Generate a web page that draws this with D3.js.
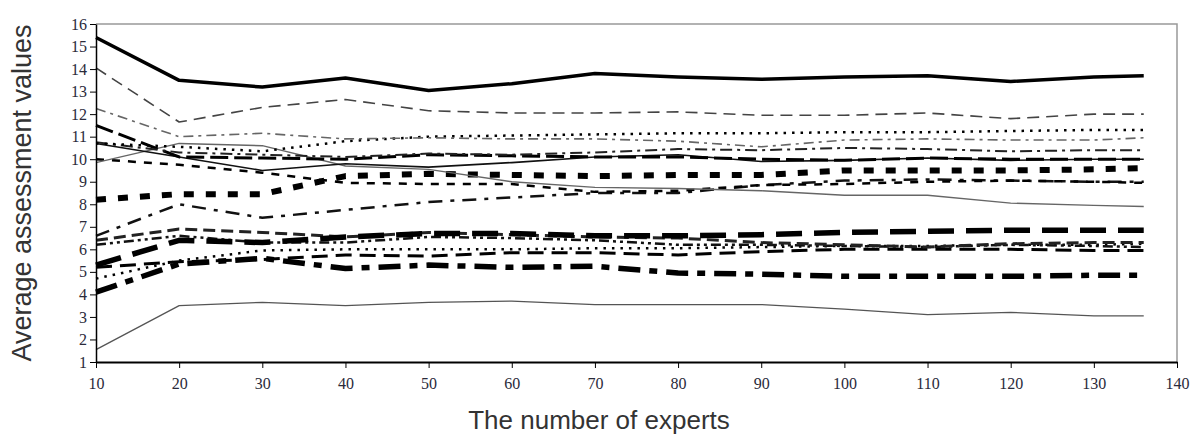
<!DOCTYPE html>
<html>
<head>
  <meta charset="utf-8">
  <title>Average assessment values by number of experts</title>
  <script src="https://cdn.jsdelivr.net/npm/d3@7"></script>
  <style>
    body { margin: 0; background: #fff; }
    .tick text { font-family: "Liberation Serif", "DejaVu Serif", serif; font-size: 16px; fill: #2a2a3a; }
    .axis-title { font-family: "Liberation Sans", Arial, sans-serif; fill: #333; }
  </style>
</head>
<body>
<script>
// x values (number of experts)
var experts = [10, 20, 30, 40, 50, 60, 70, 80, 90, 100, 110, 120, 130, 136];

// series
var thickSolid   = [15.4, 13.5, 13.2, 13.6, 13.05, 13.35, 13.8, 13.65, 13.55, 13.65, 13.7, 13.45, 13.65, 13.7];
var grayDash     = [14.05, 11.65, 12.3, 12.65, 12.15, 12.05, 12.05, 12.1, 11.95, 11.95, 12.05, 11.8, 12.0, 12.0];
var dashDotHigh  = [12.25, 11.0, 11.15, 10.9, 10.95, 10.9, 10.9, 10.8, 10.55, 10.85, 10.9, 10.85, 10.85, 10.95];
var dottedHigh   = [10.7, 10.55, 10.35, 10.8, 11.0, 11.05, 11.1, 11.15, 11.15, 11.2, 11.2, 11.25, 11.3, 11.3];
var dashDotMid   = [10.75, 10.3, 10.2, 10.1, 10.25, 10.2, 10.3, 10.45, 10.4, 10.5, 10.45, 10.35, 10.4, 10.4];
var thickLong    = [11.5, 10.1, 10.05, 10.0, 10.2, 10.15, 10.1, 10.1, 10.0, 9.95, 10.05, 10.0, 10.0, 10.0];
var blackSolid   = [10.7, 10.1, 9.5, 9.8, 9.65, 9.85, 10.1, 10.2, 9.9, 9.95, 10.05, 9.95, 10.0, 10.0];
var graySolid    = [9.85, 10.7, 10.6, 9.7, 9.55, 9.0, 8.75, 8.7, 8.6, 8.4, 8.4, 8.05, 7.95, 7.9];
var squareDash   = [8.2, 8.45, 8.45, 9.25, 9.35, 9.3, 9.25, 9.3, 9.3, 9.5, 9.5, 9.5, 9.55, 9.6];
var shortDash    = [10.0, 9.75, 9.4, 8.95, 8.9, 8.9, 8.55, 8.6, 8.85, 8.9, 9.0, 9.05, 9.0, 8.95];
var peakDashDot  = [6.6, 8.0, 7.4, 7.75, 8.1, 8.3, 8.5, 8.5, 8.85, 9.05, 9.1, 9.05, 9.0, 9.0];
var heavyLong    = [5.3, 6.4, 6.3, 6.55, 6.7, 6.7, 6.6, 6.6, 6.65, 6.75, 6.8, 6.85, 6.85, 6.85];
var mediumDash   = [6.4, 6.9, 6.75, 6.55, 6.75, 6.65, 6.55, 6.5, 6.3, 6.2, 6.1, 6.25, 6.3, 6.3];
var dashDotDot   = [6.2, 6.6, 6.3, 6.3, 6.55, 6.5, 6.4, 6.2, 6.2, 6.15, 6.1, 6.2, 6.15, 6.1];
var lowDash      = [5.2, 5.45, 5.55, 5.75, 5.7, 5.85, 5.85, 5.75, 5.9, 6.0, 6.0, 6.0, 5.95, 5.95];
var dottedLow    = [4.7, 5.5, 5.95, 6.0, 6.0, 6.0, 6.05, 6.05, 6.1, 6.15, 6.15, 6.2, 6.2, 6.25];
var heavyDashDot = [4.1, 5.35, 5.6, 5.15, 5.3, 5.2, 5.25, 4.95, 4.9, 4.8, 4.8, 4.8, 4.85, 4.85];
var bottomSolid  = [1.55, 3.5, 3.65, 3.5, 3.65, 3.7, 3.55, 3.55, 3.55, 3.35, 3.1, 3.2, 3.05, 3.05];

var yTicks = d3.range(1, 17);
var xTicks = d3.range(10, 141, 10);

// how each line is stroked
var series = [
  { v: bottomSolid,  c: "#555", w: 1.3, d: null },
  { v: heavyDashDot, c: "#000", w: 5.5, d: "22,9,8,9" },
  { v: dottedLow,    c: "#000", w: 2.5, d: "2.5,6" },
  { v: lowDash,      c: "#000", w: 3,   d: "16,8" },
  { v: dashDotDot,   c: "#111", w: 2.5, d: "10,4,3,4,3,4" },
  { v: mediumDash,   c: "#222", w: 3,   d: "12,6" },
  { v: heavyLong,    c: "#000", w: 5.5, d: "26,12" },
  { v: peakDashDot,  c: "#111", w: 2.5, d: "14,8,4,8" },
  { v: shortDash,    c: "#000", w: 2.5, d: "8,8" },
  { v: squareDash,   c: "#000", w: 6,   d: "10,12" },
  { v: graySolid,    c: "#666", w: 1.4, d: null },
  { v: blackSolid,   c: "#111", w: 1.6, d: null },
  { v: thickLong,    c: "#000", w: 3,   d: "18,6" },
  { v: dashDotMid,   c: "#222", w: 2,   d: "12,5,3,5" },
  { v: dottedHigh,   c: "#000", w: 2.5, d: "2.5,6" },
  { v: dashDotHigh,  c: "#666", w: 1.6, d: "10,5,3,5" },
  { v: grayDash,     c: "#444", w: 1.6, d: "12,7" },
  { v: thickSolid,   c: "#000", w: 3.5, d: null }
];

var svg_width = 1193, svg_height = 437;
var plotLeft = 96, plotRight = 1177, plotTop = 24, plotBottom = 362;

var svg = d3.select("body").append("svg")
    .attr("width", svg_width)
    .attr("height", svg_height);

var x = d3.scaleLinear().domain([10, 140]).range([plotLeft, plotRight]);
var y = d3.scaleLinear().domain([1, 16]).range([plotBottom, plotTop]);

// frame (gray top and right)
svg.append("path")
    .attr("d", "M" + plotLeft + "," + plotTop + "H" + plotRight + "V" + plotBottom)
    .attr("fill", "none")
    .attr("stroke", "#999")
    .attr("stroke-width", 1.5);

var line = d3.line()
    .x(function(d, i) { return x(experts[i]); })
    .y(function(d) { return y(d); });

svg.append("g").selectAll("path")
    .data(series)
    .enter().append("path")
    .attr("d", function(s) { return line(s.v); })
    .attr("fill", "none")
    .attr("stroke", function(s) { return s.c; })
    .attr("stroke-width", function(s) { return s.w; })
    .attr("stroke-dasharray", function(s) { return s.d; })
    .attr("stroke-linejoin", "round");

// axes
var yAxis = svg.append("g")
    .attr("transform", "translate(" + plotLeft + ",0)")
    .call(d3.axisLeft(y).tickValues(yTicks).tickSize(6).tickSizeOuter(0).tickFormat(d3.format("d")));
yAxis.select(".domain").attr("stroke-width", 1.5);
yAxis.selectAll(".tick text").attr("x", -9);

var xAxis = svg.append("g")
    .attr("transform", "translate(0," + plotBottom + ")")
    .call(d3.axisBottom(x).tickValues(xTicks).tickSize(6).tickSizeOuter(0).tickFormat(d3.format("d")));
xAxis.select(".domain").attr("stroke-width", 2);
xAxis.selectAll(".tick text").attr("y", 16);

// titles
svg.append("text")
    .attr("class", "axis-title")
    .attr("x", 599)
    .attr("y", 429)
    .attr("text-anchor", "middle")
    .style("font-size", "26px")
    .text("The number of experts");

svg.append("text")
    .attr("class", "axis-title")
    .attr("transform", "translate(31," + ((plotTop + plotBottom) / 2) + ") rotate(-90)")
    .attr("text-anchor", "middle")
    .style("font-size", "27px")
    .text("Average assessment values");
</script>
</body>
</html>
